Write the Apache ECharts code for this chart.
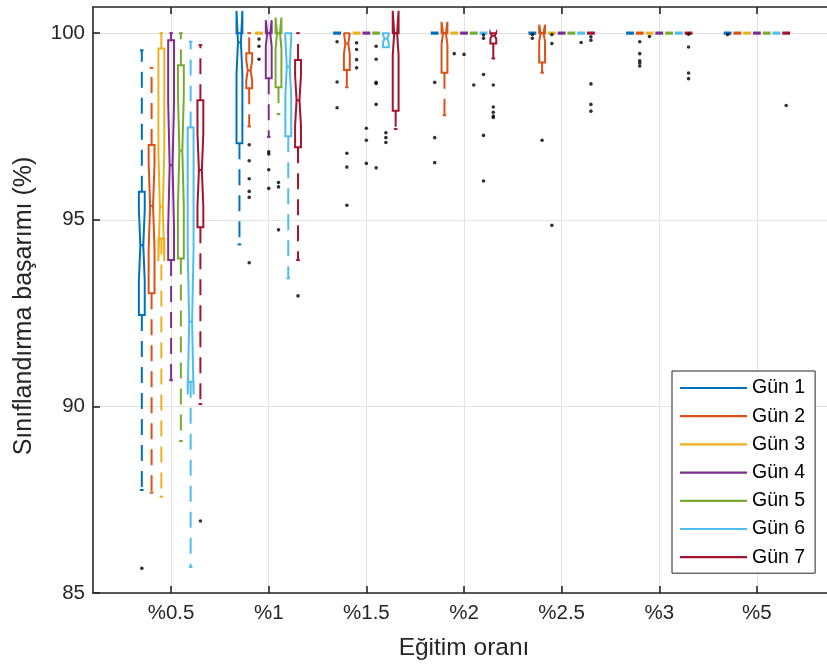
<!DOCTYPE html>
<html><head><meta charset="utf-8">
<script src="https://cdn.jsdelivr.net/npm/echarts@6/dist/echarts.min.js"></script>
<style>html,body{margin:0;padding:0;background:#fff}#c{width:827px;height:666px}</style>
</head><body><div id="c"></div>
<script>
// ---------- data ----------
const categories = ['%0.5', '%1', '%1.5', '%2', '%2.5', '%3', '%5'];
const days = ['Gün 1', 'Gün 2', 'Gün 3', 'Gün 4', 'Gün 5', 'Gün 6', 'Gün 7'];
const yTicks = [85, 90, 95, 100];

// per day: values per category (lower whisker, Q1, median, Q3, upper whisker)
const whiskerLow = [
  [87.76, 94.34, 100, 100, 100, 100, 100],
  [87.69, 97.50, 98.55, 97.80, 98.94, 100, 100],
  [87.58, 100, 100, 100, 100, 100, 100],
  [90.70, 97.22, 100, 100, 100, 100, 100],
  [89.07, 97.83, 100, 100, 100, 100, 100],
  [85.70, 93.43, 99.62, 100, 100, 100, 100],
  [90.06, 93.92, 97.43, 99.32, 100, 100, 100]
];
const q1 = [
  [92.45, 97.05, 100, 100, 100, 100, 100],
  [93.03, 98.52, 99.01, 98.94, 99.21, 100, 100],
  [94.50, 100, 100, 100, 100, 100, 100],
  [93.92, 98.79, 100, 100, 100, 100, 100],
  [93.96, 98.55, 100, 100, 100, 100, 100],
  [90.66, 97.24, 99.62, 100, 100, 100, 100],
  [94.80, 96.94, 97.92, 99.72, 100, 100, 100]
];
const median = [
  [94.32, 99.75, 100, 100, 100, 100, 100],
  [95.37, 99.00, 99.72, 100, 100, 100, 100],
  [95.35, 100, 100, 100, 100, 100, 100],
  [96.46, 100, 100, 100, 100, 100, 100],
  [96.85, 100, 100, 100, 100, 100, 100],
  [92.27, 99.10, 99.85, 100, 100, 100, 100],
  [96.33, 98.20, 100, 99.93, 100, 100, 100]
];
const q3 = [
  [95.75, 100, 100, 100, 100, 100, 100],
  [97.00, 99.46, 100, 100, 100, 100, 100],
  [99.59, 100, 100, 100, 100, 100, 100],
  [99.81, 100, 100, 100, 100, 100, 100],
  [99.14, 100, 100, 100, 100, 100, 100],
  [97.47, 100, 100, 100, 100, 100, 100],
  [98.20, 99.28, 100, 100, 100, 100, 100]
];
const whiskerHigh = [
  [99.54, 100, 100, 100, 100, 100, 100],
  [99.07, 100, 100, 100, 100, 100, 100],
  [100, 100, 100, 100, 100, 100, 100],
  [100, 100, 100, 100, 100, 100, 100],
  [100, 100, 100, 100, 100, 100, 100],
  [99.77, 100, 100, 100, 100, 100, 100],
  [99.68, 100, 100, 100, 100, 100, 100]
];
// outliers per day: [category index, value]
const outliers = [
  [[0, 85.66], [2, 99.77], [2, 98.69], [2, 98.00], [3, 98.68], [3, 97.20], [3, 96.53], [4, 99.96], [4, 99.86], [6, 99.96]],
  [[1, 97.01], [1, 96.58], [1, 96.10], [1, 95.76], [1, 95.60], [1, 93.85], [2, 96.78], [2, 96.41], [2, 95.39], [4, 97.13],
   [5, 99.77], [5, 99.45], [5, 99.26], [5, 99.20], [5, 99.12]],
  [[1, 99.84], [1, 99.65], [1, 99.30], [2, 99.74], [2, 99.56], [2, 99.29], [2, 99.07], [3, 99.45], [4, 99.96], [4, 99.72], [4, 94.85], [5, 99.91]],
  [[1, 96.82], [1, 96.76], [1, 96.34], [1, 95.84], [2, 97.45], [2, 97.13], [2, 96.51], [3, 99.43]],
  [[1, 96.00], [1, 95.88], [1, 94.73], [2, 99.65], [2, 99.30], [2, 98.68], [2, 98.65], [2, 98.09], [2, 96.39], [3, 98.61]],
  [[2, 97.33], [2, 97.20], [2, 97.07], [3, 99.95], [3, 99.86], [3, 98.89], [3, 97.26], [3, 96.04], [4, 99.75]],
  [[0, 86.93], [1, 92.96], [3, 98.61], [3, 98.02], [3, 97.88], [3, 97.78], [3, 97.74], [4, 99.90], [4, 99.81], [4, 98.64],
   [4, 98.09], [4, 97.91], [5, 99.97], [5, 99.63], [5, 98.93], [5, 98.78], [6, 98.06]]
];
const sampleSize = 30;

// ---------- style ----------
const colors = ['#0072BD', '#D95319', '#EDB120', '#7E2F8E', '#77AC30', '#4DBEEE', '#A2142F'];
const FONT = 'Liberation Sans, Arial, Helvetica, sans-serif';
const TXT = '#262626';
const GROUP_STEP = 0.1;
const BOX_W = 0.06;
const catPos = categories.map((c, i) => i + 1);

function renderBox(params, api) {
  const x = api.value(0);
  const wl = api.value(1), lo = api.value(2), md = api.value(3), hi = api.value(4), wh = api.value(5);
  const color = api.visual('color');
  const cx = api.coord([x, md])[0];
  const Y = v => api.coord([x, v])[1];
  const half = api.size([BOX_W, 0])[0] / 2;
  const inner = half * 0.5;
  const children = [];
  const solid = { stroke: color, lineWidth: 2, fill: 'none' };
  const dashed = { stroke: color, lineWidth: 2, lineDash: [16, 10], fill: 'none' };
  if (wh > hi) {
    children.push({ type: 'line', shape: { x1: cx, y1: Y(hi), x2: cx, y2: Y(wh) }, style: dashed });
    children.push({ type: 'line', shape: { x1: cx - 1.8, y1: Y(wh), x2: cx + 1.8, y2: Y(wh) }, style: solid });
  }
  if (wl < lo) {
    children.push({ type: 'line', shape: { x1: cx, y1: Y(lo), x2: cx, y2: Y(wl) }, style: dashed });
    children.push({ type: 'line', shape: { x1: cx - 1.8, y1: Y(wl), x2: cx + 1.8, y2: Y(wl) }, style: solid });
  }
  if (hi - lo <= 0) {
    children.push({ type: 'rect', shape: { x: cx - half - 1, y: Y(md) - 1.6, width: 2 * half + 2, height: 3.2 }, style: { fill: color } });
  } else {
    const nh = 1.57 * (hi - lo) / Math.sqrt(sampleSize);
    const L = cx - half, R = cx + half;
    const pts = [
      [L, Y(lo)], [L, Y(md - nh)], [cx - inner, Y(md)], [L, Y(md + nh)], [L, Y(hi)],
      [R, Y(hi)], [R, Y(md + nh)], [cx + inner, Y(md)], [R, Y(md - nh)], [R, Y(lo)]
    ];
    children.push({ type: 'polygon', shape: { points: pts }, style: Object.assign({}, solid, { lineJoin: 'miter' }) });
    children.push({ type: 'line', shape: { x1: cx - inner, y1: Y(md), x2: cx + inner, y2: Y(md) }, style: solid });
  }
  return { type: 'group', children };
}

const series = [];
days.forEach((d, k) => {
  const off = (k - 3) * GROUP_STEP;
  series.push({
    name: d, type: 'custom', clip: true, z: 2,
    color: colors[k], itemStyle: { color: colors[k] },
    renderItem: renderBox,
    encode: { x: 0, y: [1, 2, 3, 4, 5] },
    data: categories.map((c, i) => [catPos[i] + off, whiskerLow[k][i], q1[k][i], median[k][i], q3[k][i], whiskerHigh[k][i]])
  });
});
days.forEach((d, k) => {
  const off = (k - 3) * GROUP_STEP;
  series.push({
    type: 'scatter', z: 5, silent: true, symbolSize: 3.6,
    itemStyle: { color: '#000' },
    data: outliers[k].map(o => [catPos[o[0]] + off, o[1]])
  });
});

const chart = echarts.init(document.getElementById('c'), null, { renderer: 'canvas' });
chart.setOption({
  animation: false,
  backgroundColor: '#fff',
  textStyle: { fontFamily: FONT },
  grid: { left: 93, top: 7, right: -8, bottom: 73, containLabel: false, outerBoundsMode: 'none' },
  legend: {
    orient: 'vertical', left: 672, top: 371,
    padding: [7, 10, 6, 8], itemGap: 8.2, itemWidth: 67, itemHeight: 2.2,
    backgroundColor: '#fff', borderColor: '#262626', borderWidth: 1, borderRadius: 0,
    textStyle: { fontSize: 19.5, color: '#000', lineHeight: 20, fontFamily: FONT },
    data: days.map((d, k) => ({ name: d, icon: 'rect', itemStyle: { color: colors[k] } })),
    selectedMode: false
  },
  xAxis: [{
    type: 'value', min: 0.2, max: 7.8,
    name: 'Eğitim oranı', nameLocation: 'middle', nameGap: 43,
    nameTextStyle: { fontSize: 24.5, color: TXT, fontFamily: FONT },
    axisLine: { show: true, onZero: false, lineStyle: { color: TXT, width: 1.6 } },
    axisTick: { show: true, inside: true, length: 7, customValues: catPos, lineStyle: { color: TXT, width: 1.6 } },
    axisLabel: { customValues: catPos, margin: 10, fontSize: 20.5, color: TXT, fontFamily: FONT,
      formatter: v => categories[Math.round(v) - 1] },
    splitLine: { show: true, lineStyle: { color: '#e3e3e3', width: 1 } }
  }, {
    type: 'value', position: 'top', min: 0.2, max: 7.8,
    axisLine: { show: true, onZero: false, lineStyle: { color: TXT, width: 1.6 } },
    axisTick: { show: true, inside: true, length: 7, customValues: catPos, lineStyle: { color: TXT, width: 1.6 } },
    axisLabel: { show: false }, splitLine: { show: false }
  }],
  yAxis: {
    type: 'value', min: 85, max: 100.7,
    name: 'Sınıflandırma başarımı (%)', nameLocation: 'middle', nameGap: 56,
    nameTextStyle: { fontSize: 25, color: TXT, fontFamily: FONT, padding: [0, 12, 0, 0] },
    axisLine: { show: true, lineStyle: { color: TXT, width: 1.6 } },
    axisTick: { show: true, inside: true, length: 7, customValues: yTicks, lineStyle: { color: TXT, width: 1.6 } },
    axisLabel: { customValues: yTicks, margin: 8, fontSize: 20.5, color: TXT, fontFamily: FONT },
    splitLine: { show: true, lineStyle: { color: '#e3e3e3', width: 1 } }
  },
  series
});
</script></body></html>
